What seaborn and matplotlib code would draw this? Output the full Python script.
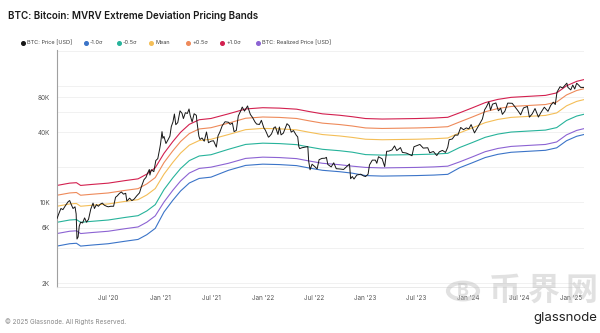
import matplotlib
matplotlib.use("Agg")
import matplotlib.pyplot as plt
import matplotlib.dates as mdates
from matplotlib.lines import Line2D
from matplotlib.patches import Circle
from matplotlib.ticker import FixedLocator, FixedFormatter, NullLocator
import pandas as pd
import seaborn as sns

# ---- MVRV deviation bands (USD), sampled at band_dates ----
band_dates = [
    "2020-01-01", "2020-02-15", "2020-03-10", "2020-03-25", "2020-05-01", "2020-07-01",
    "2020-09-01", "2020-10-15", "2020-11-15", "2020-12-15", "2021-01-15", "2021-02-15",
    "2021-03-15", "2021-04-15", "2021-05-20", "2021-07-01", "2021-09-01", "2021-11-01",
    "2022-01-01", "2022-03-01", "2022-05-01", "2022-06-15", "2022-08-01", "2022-10-01",
    "2022-11-15", "2023-01-01", "2023-03-01", "2023-05-01", "2023-07-01", "2023-09-01",
    "2023-10-20", "2023-12-01", "2024-01-15", "2024-03-01", "2024-04-15", "2024-06-01",
    "2024-08-01", "2024-10-01", "2024-11-10", "2024-12-15", "2025-01-20", "2025-02-15",
]
realized_price = [
    5350, 5600, 5650, 5350, 5450, 5600, 5900, 6100, 6700, 7600, 10000, 12600,
    15200, 17800, 19500, 20000, 21600, 23800, 24400, 24200, 23700, 22600, 21600, 21000,
    20400, 19900, 19700, 19800, 19900, 20100, 20400, 22200, 24500, 27200, 29000, 30200,
    30800, 31400, 33000, 38000, 41500, 43000,
]
band_minus_1_0 = [
    4170, 4370, 4410, 4170, 4250, 4370, 4600, 4760, 5230, 5930, 8200, 10330,
    12460, 14600, 15990, 16400, 18790, 20710, 21230, 21050, 20620, 19660, 18790, 18270,
    17750, 16920, 16750, 16830, 16920, 17090, 17340, 19760, 21810, 24210, 25810, 26880,
    27410, 27950, 29370, 33820, 36940, 38270,
]
band_minus_0_5 = [
    6690, 7000, 7060, 6690, 6810, 7000, 7380, 7630, 8380, 9500, 12800, 16130,
    19460, 22780, 24960, 25600, 28510, 31420, 32210, 31940, 31280, 29830, 28510, 27720,
    26930, 25670, 25410, 25540, 25670, 25930, 26320, 29530, 32590, 36180, 38570, 40170,
    40960, 41760, 43890, 50540, 55200, 57190,
]
band_mean = [
    9200, 9630, 9720, 9200, 9370, 9630, 10150, 10490, 11520, 13070, 17400, 21920,
    26450, 30970, 33930, 34800, 38230, 42130, 43190, 42830, 41950, 40000, 38230, 37170,
    36110, 34830, 34480, 34650, 34830, 35180, 35700, 39520, 43610, 48420, 51620, 53760,
    54820, 55890, 58740, 67640, 73870, 76540,
]
band_plus_0_5 = [
    11450, 11980, 12090, 11450, 11660, 11980, 12630, 13050, 14340, 16260, 21900, 27590,
    33290, 38980, 42710, 43800, 47950, 52840, 54170, 53720, 52610, 50170, 47950, 46620,
    45290, 43580, 43140, 43360, 43580, 44020, 44680, 49060, 54150, 60110, 64090, 66740,
    68070, 69390, 72930, 83980, 91720, 95030,
]
band_plus_1_0 = [
    13910, 14560, 14690, 13910, 14170, 14560, 15340, 15860, 17420, 19760, 26300, 33140,
    39980, 46810, 51290, 52600, 57670, 63550, 65150, 64610, 63280, 60340, 57670, 56070,
    54470, 52540, 52010, 52270, 52540, 53060, 53860, 58830, 64930, 72080, 76850, 80030,
    81620, 83210, 87450, 100700, 109980, 113950,
]

# ---- BTC market price (USD) ----
price_dates = [
    "2020-01-01", "2020-01-08", "2020-01-15", "2020-01-22", "2020-02-01", "2020-02-10", "2020-02-15",
    "2020-02-20", "2020-02-27", "2020-03-05", "2020-03-09", "2020-03-12", "2020-03-16", "2020-03-20",
    "2020-03-25", "2020-04-01", "2020-04-08", "2020-04-15", "2020-04-22", "2020-04-30", "2020-05-08",
    "2020-05-13", "2020-05-20", "2020-05-27", "2020-06-03", "2020-06-10", "2020-06-17", "2020-06-25",
    "2020-07-01", "2020-07-10", "2020-07-20", "2020-07-27", "2020-08-02", "2020-08-10", "2020-08-17",
    "2020-08-24", "2020-09-01", "2020-09-05", "2020-09-15", "2020-09-23", "2020-10-01", "2020-10-10",
    "2020-10-20", "2020-10-27", "2020-11-05", "2020-11-12", "2020-11-18", "2020-11-24", "2020-11-26",
    "2020-12-01", "2020-12-10", "2020-12-17", "2020-12-24", "2020-12-31",
    "2021-01-03", "2021-01-08", "2021-01-11", "2021-01-15", "2021-01-22", "2021-01-29", "2021-02-05",
    "2021-02-10", "2021-02-16", "2021-02-21", "2021-02-26", "2021-03-05", "2021-03-13", "2021-03-20",
    "2021-03-25", "2021-04-01", "2021-04-08", "2021-04-14", "2021-04-18", "2021-04-25", "2021-05-02",
    "2021-05-10", "2021-05-12", "2021-05-19", "2021-05-23", "2021-05-30", "2021-06-07", "2021-06-15",
    "2021-06-22", "2021-07-01", "2021-07-10", "2021-07-20", "2021-07-26", "2021-08-01", "2021-08-10",
    "2021-08-20", "2021-09-01", "2021-09-07", "2021-09-15", "2021-09-21", "2021-09-29", "2021-10-06",
    "2021-10-15", "2021-10-20", "2021-10-28", "2021-11-08", "2021-11-10", "2021-11-18", "2021-11-26",
    "2021-12-04", "2021-12-10", "2021-12-20", "2021-12-27",
    "2022-01-05", "2022-01-10", "2022-01-21", "2022-01-24", "2022-02-01", "2022-02-10", "2022-02-15",
    "2022-02-24", "2022-03-01", "2022-03-07", "2022-03-15", "2022-03-28", "2022-04-05", "2022-04-12",
    "2022-04-20", "2022-04-30", "2022-05-05", "2022-05-09", "2022-05-12", "2022-05-20", "2022-06-01",
    "2022-06-10", "2022-06-13", "2022-06-18", "2022-06-25", "2022-07-05", "2022-07-13", "2022-07-20",
    "2022-07-30", "2022-08-10", "2022-08-15", "2022-08-20", "2022-09-01", "2022-09-10", "2022-09-19",
    "2022-10-01", "2022-10-15", "2022-10-25", "2022-11-05", "2022-11-09", "2022-11-15", "2022-11-21",
    "2022-12-01", "2022-12-15", "2022-12-25",
    "2023-01-01", "2023-01-10", "2023-01-15", "2023-01-25", "2023-02-05", "2023-02-10", "2023-02-16",
    "2023-03-01", "2023-03-10", "2023-03-17", "2023-03-25", "2023-04-05", "2023-04-14", "2023-04-22",
    "2023-05-05", "2023-05-12", "2023-05-25", "2023-06-05", "2023-06-15", "2023-06-22", "2023-07-01",
    "2023-07-13", "2023-07-25", "2023-08-10", "2023-08-17", "2023-08-30", "2023-09-11", "2023-09-20",
    "2023-10-01", "2023-10-12", "2023-10-20", "2023-10-25", "2023-11-05", "2023-11-15", "2023-11-25",
    "2023-12-05", "2023-12-15", "2023-12-25",
    "2024-01-03", "2024-01-11", "2024-01-23", "2024-02-01", "2024-02-10", "2024-02-20", "2024-02-28",
    "2024-03-05", "2024-03-14", "2024-03-20", "2024-03-27", "2024-04-08", "2024-04-17", "2024-04-25",
    "2024-05-01", "2024-05-10", "2024-05-20", "2024-06-05", "2024-06-15", "2024-06-25", "2024-07-05",
    "2024-07-15", "2024-07-29", "2024-08-05", "2024-08-15", "2024-08-25", "2024-09-06", "2024-09-15",
    "2024-09-27", "2024-10-10", "2024-10-20", "2024-10-29", "2024-11-05", "2024-11-11", "2024-11-22",
    "2024-12-01", "2024-12-05", "2024-12-16", "2024-12-20", "2024-12-30",
    "2025-01-06", "2025-01-13", "2025-01-20", "2025-01-28", "2025-02-03", "2025-02-10", "2025-02-15",
]
btc_price = [
    7200, 8000, 8800, 8600, 9400, 10100, 10300,
    9600, 8800, 9100, 7900, 4800, 5000, 6200,
    6700, 6600, 7300, 6700, 7100, 8700, 9800,
    8800, 9500, 9200, 9600, 9800, 9400, 9200,
    9100, 9200, 9200, 11000, 11300, 11900, 12200,
    11700, 11900, 10200, 10800, 10300, 10600, 11300,
    12000, 13600, 15600, 16300, 17800, 19100, 17100,
    19000, 18300, 22800, 23700, 29000,
    32000, 40500, 35500, 36800, 32000, 34300, 37000,
    44800, 49200, 57500, 46500, 48500, 61200, 58300,
    52500, 59000, 58100, 63500, 56000, 49100, 57800,
    56000, 49500, 37000, 34700, 35700, 33500, 40200,
    32500, 33500, 33800, 29800, 37300, 39900, 45600,
    49300, 48800, 46800, 48100, 40500, 41500, 55300,
    61500, 66000, 60900, 67500, 64900, 56900, 53500,
    49200, 47100, 46700, 50700,
    43500, 41800, 36300, 36700, 38700, 44000, 44500,
    38300, 44400, 38000, 39300, 47400, 45500, 40100,
    41400, 37700, 36500, 30100, 28900, 29400, 29800,
    30100, 22500, 19000, 21200, 20200, 19300, 23200,
    23800, 23900, 24300, 21100, 20100, 21800, 19400,
    19300, 19100, 20100, 21300, 15900, 16600, 15800,
    17100, 17400, 16800,
    16600, 17400, 20900, 23000, 23000, 21600, 24600,
    23600, 20200, 27400, 27500, 28200, 30500, 27800,
    29500, 26800, 26500, 25800, 25100, 30000, 30600,
    31400, 29200, 29400, 26600, 27300, 25200, 27100,
    27900, 26800, 29700, 34500, 35000, 37800, 37800,
    44000, 42100, 43600,
    42800, 46600, 39500, 43100, 47100, 52000, 62500,
    66000, 73100, 62000, 69900, 71600, 61300, 64500,
    57100, 60800, 71400, 71100, 66200, 61500, 56600,
    64800, 66800, 54000, 57600, 64100, 54100, 59200,
    65800, 60600, 68400, 72700, 69400, 88700, 98900,
    96400, 98900, 106100, 97500, 92800,
    102200, 94500, 106000, 101500, 97600, 97400, 97500,
]

series_labels = ["BTC: Price [USD]", "-1.0σ", "-0.5σ", "Mean", "+0.5σ", "+1.0σ",
                 "BTC: Realized Price [USD]"]
series_colors = ["#161616", "#3b74c8", "#27b39b", "#f4be57", "#ee8a5a", "#d3204f", "#8c63d3"]

x_tick_dates = ["2020-07-01", "2021-01-01", "2021-07-01", "2022-01-01", "2022-07-01",
                "2023-01-01", "2023-07-01", "2024-01-01", "2024-07-01", "2025-01-01"]
x_tick_labels = ["Jul '20", "Jan '21", "Jul '21", "Jan '22", "Jul '22",
                 "Jan '23", "Jul '23", "Jan '24", "Jul '24", "Jan '25"]
y_grid_values = [2000, 4000, 6000, 10000, 20000, 40000, 60000, 80000, 100000, 200000]
y_tick_values = [2000, 6000, 10000, 40000, 80000]
y_tick_labels = ["2K", "6K", "10K", "40K", "80K"]

# ---- assemble tidy frames ----
bands = pd.DataFrame({
    "date": pd.to_datetime(band_dates),
    "-1.0σ": band_minus_1_0,
    "-0.5σ": band_minus_0_5,
    "Mean": band_mean,
    "+0.5σ": band_plus_0_5,
    "+1.0σ": band_plus_1_0,
    "BTC: Realized Price [USD]": realized_price,
})
bands_long = bands.melt(id_vars="date", var_name="series", value_name="usd")
prices = pd.DataFrame({"date": pd.to_datetime(price_dates), "usd": btc_price})
palette = dict(zip(series_labels, series_colors))

sns.set_theme(style="white")
plt.rcParams["font.family"] = ["Inter", "DejaVu Sans"]

W, H = 600, 333
fig = plt.figure(figsize=(W / 100, H / 100), dpi=100)
ax = fig.add_axes([57 / W, 46 / H, 527 / W, 237 / H])

sns.lineplot(data=bands_long, x="date", y="usd", hue="series", palette=palette,
             hue_order=series_labels[1:], linewidth=0.8, legend=False, ax=ax,
             estimator=None, sort=True)
sns.lineplot(data=prices, x="date", y="usd", color=palette["BTC: Price [USD]"],
             linewidth=0.7, legend=False, ax=ax, estimator=None, sort=True, zorder=5)

ax.set_yscale("log")
ax.set_ylim(1850, 205000)
ax.set_xlim(pd.Timestamp("2020-01-01"), pd.Timestamp("2025-02-15"))

for v in y_grid_values:
    ax.axhline(v, color="#efefef", linewidth=0.6, zorder=0)
ax.yaxis.set_major_locator(FixedLocator(y_tick_values))
ax.yaxis.set_major_formatter(FixedFormatter(y_tick_labels))
ax.yaxis.set_minor_locator(NullLocator())
ax.tick_params(axis="y", length=0, pad=5, labelsize=4.6, labelcolor="#555555")

ax.xaxis.set_major_locator(FixedLocator(mdates.date2num(pd.to_datetime(x_tick_dates))))
ax.xaxis.set_major_formatter(FixedFormatter(x_tick_labels))
ax.tick_params(axis="x", length=3, width=0.5, color="#dddddd", pad=3,
               labelsize=4.6, labelcolor="#555555")
ax.set_xlabel("")
ax.set_ylabel("")

for side in ("top", "right"):
    ax.spines[side].set_visible(False)
ax.spines["left"].set_color("#a0a0a0")
ax.spines["left"].set_linewidth(0.8)
ax.spines["bottom"].set_color("#e6e6e6")
ax.spines["bottom"].set_linewidth(0.6)

# ---- title ----
fig.text(8 / W, 1 - 16 / H, "BTC: Bitcoin: MVRV Extreme Deviation Pricing Bands",
         fontsize=7.1, fontweight="semibold", color="#1a1a1a", va="center", ha="left")

# ---- legend row ----
legend_x = [23, 86, 119, 151, 188, 222, 258]
legend_y = 1 - 43 / H
for px, lab, col in zip(legend_x, series_labels, series_colors):
    fig.add_artist(Line2D([px / W], [legend_y], marker="o", markersize=2.6,
                          color=col, linestyle="none", transform=fig.transFigure))
    fig.text((px + 4) / W, legend_y, lab, fontsize=4.0, color="#444444",
             va="center", ha="left")

# ---- footer ----
fig.text(5 / W, 1 - 322 / H, "© 2025 Glassnode. All Rights Reserved.", fontsize=4.6,
         color="#888888", va="center", ha="left")
fig.text(597 / W, 1 - 318 / H, "glassnode", fontsize=9.5, color="#222222",
         va="center", ha="right")

# ---- site watermark (semi-transparent, sits over the axis labels) ----
wm = "#bdbdbd"
wm_alpha = 0.45
fig.add_artist(Circle((463 / W, 1 - 291 / H), 15 / W, transform=fig.transFigure,
                      fill=False, edgecolor=wm, linewidth=3.0, alpha=wm_alpha))
fig.text(463 / W, 1 - 291 / H, "B", fontsize=13, fontweight="bold", color=wm,
         alpha=wm_alpha, ha="center", va="center")
for cx, ch in zip([505, 544, 582], ["币", "界", "网"]):
    fig.text(cx / W, 1 - 291 / H, ch, fontsize=23, fontweight="bold", color=wm,
             alpha=wm_alpha, ha="center", va="center",
             family=["Noto Sans CJK SC", "DejaVu Sans"])

fig.savefig("out.png", dpi=100, facecolor="white")
